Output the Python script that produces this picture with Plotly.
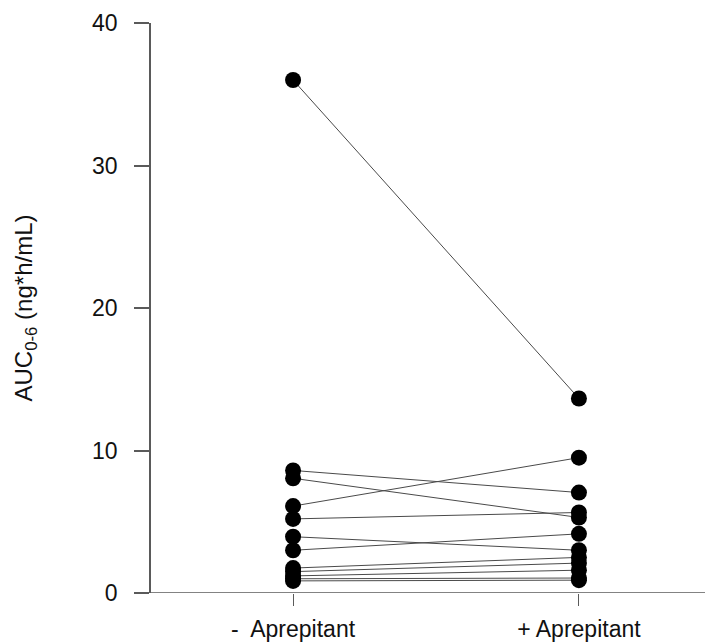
import plotly.graph_objects as go

categories = ["-  Aprepitant", "+ Aprepitant"]
before = [36.0, 8.6, 8.05, 6.1, 5.2, 3.95, 3.0, 1.75, 1.5, 1.2, 1.0, 0.85]
after = [13.65, 7.05, 5.3, 9.5, 5.65, 3.0, 4.15, 2.5, 2.1, 1.6, 1.05, 0.9]
y_ticks = [0, 10, 20, 30, 40]

fig = go.Figure()
xpos = [1, 2]
for b, a in zip(before, after):
    fig.add_trace(go.Scatter(
        x=xpos, y=[b, a], mode="lines+markers",
        line=dict(color="#4a4a4a", width=1),
        marker=dict(color="black", size=16),
        showlegend=False, hoverinfo="skip", cliponaxis=False))

axis_col = "#5a5a5a"
fig.update_layout(
    width=713, height=642,
    margin=dict(l=143, r=8, t=15, b=57),
    plot_bgcolor="white", paper_bgcolor="white",
    font=dict(family="Liberation Sans, Arial, sans-serif", size=23, color="#111"),
    xaxis=dict(
        range=[0.503, 2.469], tickmode="array", tickvals=xpos, ticktext=categories,
        showline=False, showgrid=False, zeroline=False, automargin=False,
        ticks="outside", ticklen=12, tickcolor=axis_col, tickwidth=1,
        ticklabelstandoff=3,
        tickfont=dict(size=23)),
    yaxis=dict(
        range=[0, 40], tickvals=y_ticks, showline=True, linecolor=axis_col, linewidth=1.5,
        showgrid=False, zeroline=False, automargin=False,
        ticks="outside", ticklen=15, tickcolor=axis_col, tickwidth=1.5,
        ticklabelstandoff=12,
        tickfont=dict(size=23),
        title=dict(text="AUC<sub>0-6</sub> (ng*h/mL)", font=dict(size=24), standoff=53)),
)
fig.add_shape(type="line", xref="paper", yref="y", x0=-15/562, x1=1, y0=0, y1=0,
              line=dict(color=axis_col, width=1.5), layer="below")

fig.write_html("out.html")
